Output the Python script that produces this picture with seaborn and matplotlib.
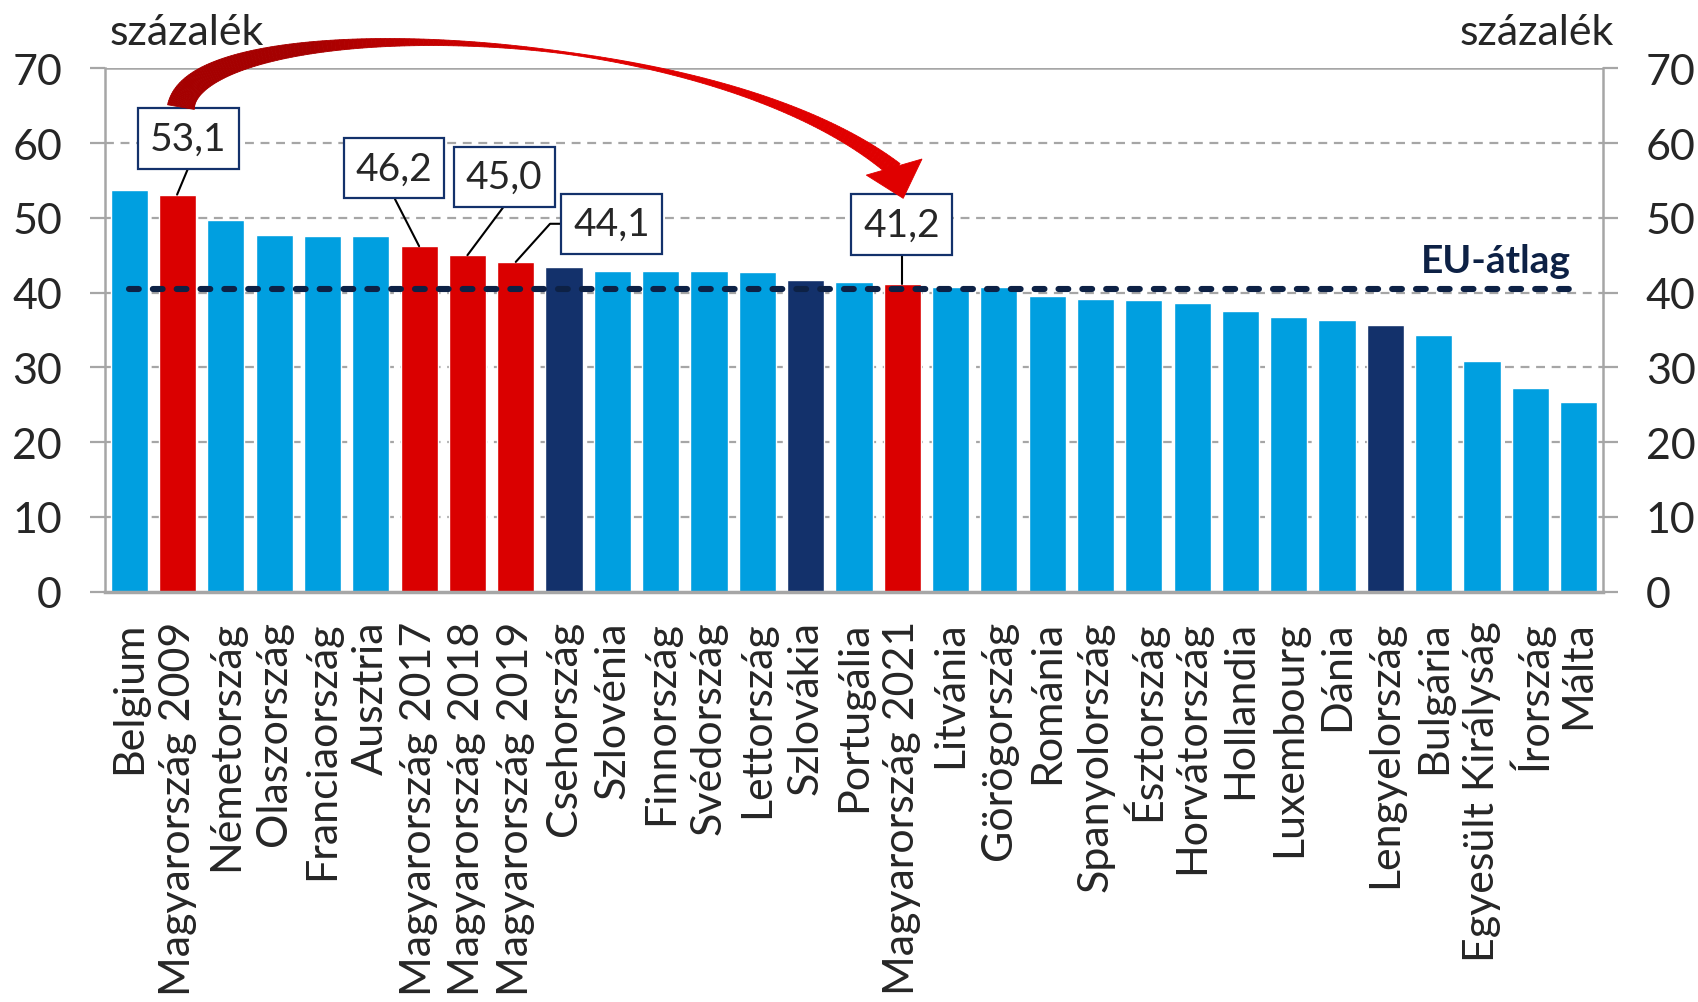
import numpy as np
import pandas as pd
import seaborn as sns
import matplotlib.pyplot as plt
from matplotlib.patches import Polygon
from matplotlib.transforms import IdentityTransform
from matplotlib.colors import to_rgb

# values (percent)
countries = [
    "Belgium", "Magyarország 2009", "Németország", "Olaszország", "Franciaország",
    "Ausztria", "Magyarország 2017", "Magyarország 2018", "Magyarország 2019",
    "Csehország", "Szlovénia", "Finnország", "Svédország", "Lettország",
    "Szlovákia", "Portugália", "Magyarország 2021", "Litvánia", "Görögország",
    "Románia", "Spanyolország", "Észtország", "Horvátország", "Hollandia",
    "Luxembourg", "Dánia", "Lengyelország", "Bulgária", "Egyesült Királyság",
    "Írország", "Málta",
]
values = [
    53.7, 53.1, 49.7, 47.7, 47.6,
    47.5, 46.2, 45.0, 44.1,
    43.4, 42.9, 42.9, 42.9, 42.8,
    41.7, 41.4, 41.2, 40.8, 40.7,
    39.5, 39.2, 39.0, 38.6, 37.5,
    36.8, 36.3, 35.7, 34.3, 30.9,
    27.2, 25.4,
]
eu_average = 40.5
visegrad = ["Csehország", "Szlovákia", "Lengyelország"]
y_ticks = [0, 10, 20, 30, 40, 50, 60, 70]

BLUE = "#009FE0"
RED = "#DA0000"
NAVY = "#13316B"
DARK = "#0D2145"
GRID = "#A6A6A6"


def bar_color(name):
    if name.startswith("Magyarország"):
        return RED
    if name in visegrad:
        return NAVY
    return BLUE


df = pd.DataFrame({"country": countries, "value": values})
palette = {c: bar_color(c) for c in countries}

sns.set_style("white")
plt.rcParams["font.family"] = ["Lato", "DejaVu Sans"]

fig = plt.figure(figsize=(16.98, 10.03), dpi=100)
ax = fig.add_axes([0.0619, 0.409, 0.882, 0.522])

sns.barplot(data=df, x="country", y="value", hue="country", palette=palette,
            dodge=False, legend=False, width=0.77, saturation=1, ax=ax, zorder=2)

ax.set_xlim(-0.5, len(countries) - 0.5)
ax.set_ylim(0, 70)
ax.set_yticks(y_ticks)
ax.set_xlabel("")
ax.set_ylabel("")

for y in y_ticks[1:-1]:
    ax.axhline(y, color=GRID, lw=1.6, ls=(0, (4, 3)), zorder=0)
ax.axhline(70, color=GRID, lw=1.8, zorder=0)

for side in ["left", "right", "bottom"]:
    ax.spines[side].set_color(GRID)
    ax.spines[side].set_linewidth(1.8)
ax.spines["bottom"].set_linewidth(2.5)
ax.spines["top"].set_visible(False)

ax.tick_params(axis="y", left=True, length=11, width=1.6, color=GRID,
               labelsize=31, pad=20, direction="out")
ax.tick_params(axis="x", bottom=False, labelsize=31, pad=17)
ax.set_xticks(range(len(countries)))
ax.set_xticklabels(countries, rotation=90)

ax2 = ax.twinx()
ax2.set_ylim(0, 70)
ax2.set_yticks(y_ticks)
ax2.tick_params(axis="y", right=True, length=11, width=1.6, color=GRID,
                labelsize=31, pad=20, direction="out")
for s in ax2.spines.values():
    s.set_visible(False)

fig.text(0.0648, 0.955, "százalék", fontsize=31, ha="left", va="baseline")
fig.text(0.9505, 0.955, "százalék", fontsize=31, ha="right", va="baseline")

# EU average line
ax.plot([0, len(countries) - 1], [eu_average, eu_average], color=DARK, lw=4.4,
        dashes=(1.6, 2.3), dash_capstyle="round", zorder=4)
ax.text(29.85, 42.75, "EU-átlag", color=DARK, fontsize=28, fontweight="bold",
        ha="right", va="baseline", zorder=5)

# value boxes with leader lines
boxes = [
    ("Magyarország 2009", (1.22, 60.6), [(1.21, 56.5), (0.99, 53.1)]),
    ("Magyarország 2017", (5.48, 56.6), [(5.5, 52.5), (6.0, 46.2)]),
    ("Magyarország 2018", (7.76, 55.5), [(7.74, 51.4), (7.0, 45.0)]),
    ("Magyarország 2019", (9.98, 49.2), [(8.95, 49.2), (8.71, 49.2), (8.0, 44.1)]),
    ("Magyarország 2021", (15.99, 49.1), [(16.0, 45.0), (16.0, 41.2)]),
]
for name, (bx, by), leader in boxes:
    v = values[countries.index(name)]
    lx, ly = zip(*leader)
    ax.plot(lx, ly, color="black", lw=1.5, zorder=5, clip_on=False)
    ax.text(bx, by, f"{v:.1f}".replace(".", ","), fontsize=28, ha="center",
            va="center", zorder=6,
            bbox=dict(boxstyle="square,pad=0.31", fc="white", ec=NAVY, lw=1.6))

# curved tapered arrow from the 2009 box to the 2021 box
ctrl = np.array([(1.07, 64.8), (1.36, 77.8), (11.9, 77.1), (15.85, 56.4)])
tip = np.array([(16.02, 52.6)])
pts = ax.transData.transform(ctrl)
tip_px = ax.transData.transform(tip)[0]
t = np.linspace(0, 1, 180)
b = (((1 - t) ** 3)[:, None] * pts[0] + (3 * t * (1 - t) ** 2)[:, None] * pts[1]
     + (3 * t ** 2 * (1 - t))[:, None] * pts[2] + (t ** 3)[:, None] * pts[3])
d = np.gradient(b, axis=0)
d /= np.linalg.norm(d, axis=1)[:, None]
nrm = np.column_stack([-d[:, 1], d[:, 0]])
w = (2.2 + 25 * np.clip(1 - t / 0.6, 0, 1) ** 1.3
     + 14 * np.clip((t - 0.6) / 0.4, 0, 1) ** 1.5)
left = b + nrm * (w / 2)[:, None]
right = b - nrm * (w / 2)[:, None]
c0, c1 = np.array(to_rgb("#A50000")), np.array(to_rgb("#E00000"))
for i in range(len(t) - 1):
    f = np.clip((t[i] - 0.3) / 0.3, 0, 1)
    col = c0 * (1 - f) + c1 * f
    quad = [left[i], left[i + 1], right[i + 1], right[i]]
    fig.patches.append(Polygon(quad, closed=True, fc=col, ec=col, lw=0.6,
                               transform=IdentityTransform(), zorder=7))
end = b[-1]
hd = tip_px - end
hd /= np.linalg.norm(hd)
hn = np.array([-hd[1], hd[0]])
head = [end + hn * 29 - hd * 3, tip_px, end - hn * 29 - hd * 3]
fig.patches.append(Polygon(head, closed=True, fc=c1, ec=c1, lw=0.6,
                           transform=IdentityTransform(), zorder=7))

fig.savefig("out.png", dpi=100)
